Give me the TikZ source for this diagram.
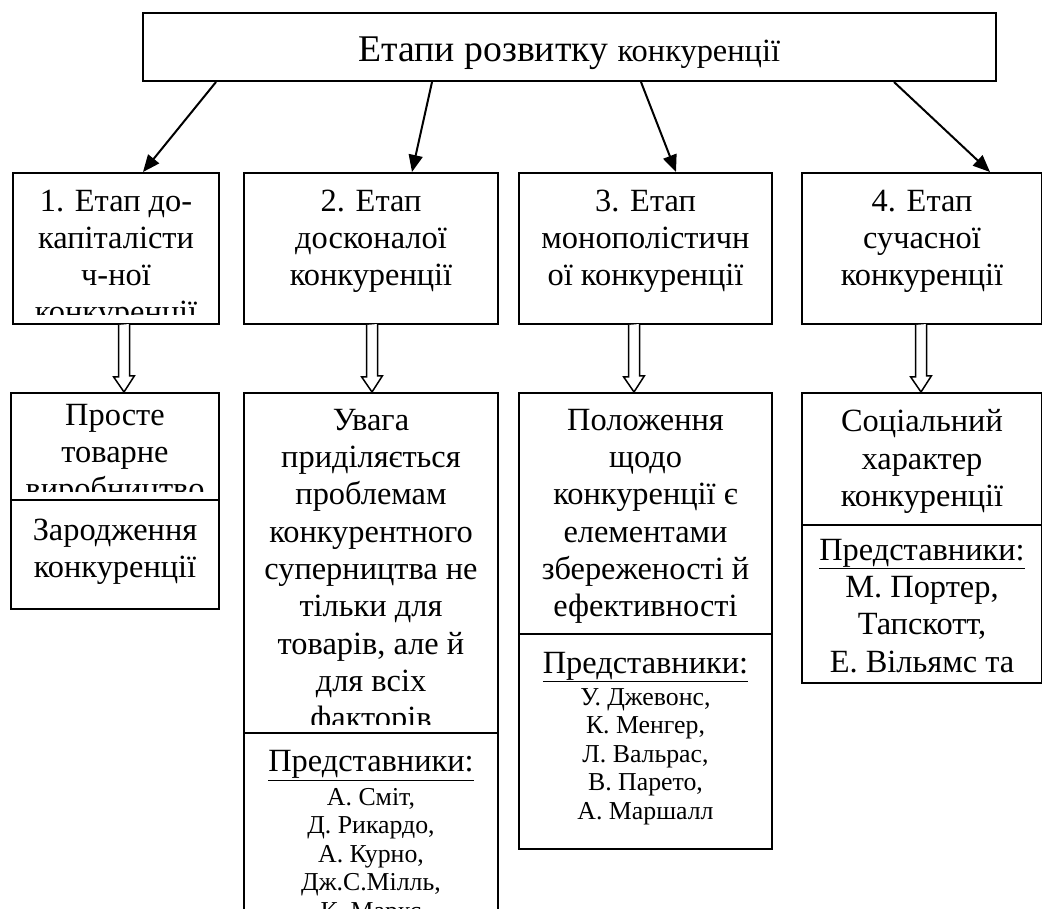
\documentclass[tikz,border=0pt]{standalone}
\usepackage{fontspec}
\setmainfont{Liberation Serif}
\usetikzlibrary{arrows.meta, calc, positioning}
\newcommand{\titlefont}{\fontsize{37.7}{43}\selectfont}
\newcommand{\stagefont}{\fontsize{32.4}{36.8}\selectfont}
\newcommand{\bodyfont}{\fontsize{32.4}{37.3}\selectfont}
\newcommand{\namefont}{\fontsize{25.8}{28.5}\selectfont}
\tikzstyle{box_node} = [rectangle, draw=black, line width=2pt, inner sep=0pt, anchor=north west]
\tikzstyle{text_node} = [anchor=north, inner sep=0pt, align=center]
\tikzstyle{arrow} = [line width=2pt, -{Triangle[length=17pt, width=14pt]}]
\tikzstyle{hollow_arrow} = [line width=1.5pt, fill=white]

\begin{document}
\begin{tikzpicture}[x=1pt, y=-1pt]
    \useasboundingbox (0,0) rectangle (1042,909);
    \clip (0,0) rectangle (1042,909);

    % boxes
    \node(title) [box_node, minimum width=853.5pt, minimum height=68pt] at (141.5,12) {};
    \node(s1) [box_node, minimum width=206pt, minimum height=151pt] at (12,172) {};
    \node(s2) [box_node, minimum width=254pt, minimum height=151pt] at (243,172) {};
    \node(s3) [box_node, minimum width=253pt, minimum height=151pt] at (518,172) {};
    \node(s4) [box_node, minimum width=240pt, minimum height=151pt] at (801,172) {};

    \node(d1a) [box_node, minimum width=208pt, minimum height=107pt] at (10,392) {};
    \node(d1b) [box_node, minimum width=208pt, minimum height=109pt] at (10,499) {};
    \node(d2a) [box_node, minimum width=254pt, minimum height=340pt] at (243,392) {};
    \node(d2b) [box_node, minimum width=254pt, minimum height=190pt] at (243,732) {};
    \node(d3a) [box_node, minimum width=253pt, minimum height=241pt] at (518,392) {};
    \node(d3b) [box_node, minimum width=253pt, minimum height=215pt] at (518,633) {};
    \node(d4a) [box_node, minimum width=240pt, minimum height=132pt] at (801,392) {};
    \node(d4b) [box_node, minimum width=240pt, minimum height=158pt] at (801,524) {};

    \node(title_text) [anchor=base, inner sep=0pt] at ([yshift=20.7pt]title.south)
        {\titlefont Етапи розвитку \bodyfont конкуренції};

    % texts, cut at the lower edge of each box
    \begin{scope}
        \clip (s1.north west) rectangle ($(s1.south east)+(0,-10)$);
        \node(s1_text) [text_node, font=\stagefont] at ($(s1.north)+(0,13.9)$)
            {\strut 1. Етап до-\\капіталісти\\ч-ної\\конкуренції};
    \end{scope}
    \node(s2_text) [text_node, font=\stagefont] at ($(s2.north)+(0,13.9)$)
        {\strut 2. Етап\\досконалої\\конкуренції};
    \node(s3_text) [text_node, font=\stagefont] at ($(s3.north)+(0,13.9)$)
        {\strut 3. Етап\\монополістичн\\ої конкуренції};
    \node(s4_text) [text_node, font=\stagefont] at ($(s4.north)+(0,13.9)$)
        {\strut 4. Етап\\сучасної\\конкуренції};

    \begin{scope}
        \clip (d1a.north west) rectangle ($(d1a.south east)+(0,-10)$);
        \node(d1a_text) [text_node, font=\bodyfont] at ($(d1a.north)+(0,6.9)$)
            {\strut Просте\\товарне\\виробництво};
    \end{scope}
    \node(d1b_text) [text_node, font=\bodyfont] at ($(d1b.north)+(0,14.9)$)
        {\strut Зародження\\конкуренції};

    \begin{scope}
        \clip (d2a.north west) rectangle ($(d2a.south east)+(0,-10)$);
        \node(d2a_text) [text_node, font=\bodyfont] at ($(d2a.north)+(0,11.9)$)
            {\strut Увага\\приділяється\\проблемам\\конкурентного\\суперництва не\\тільки для\\товарів, але й\\для всіх\\факторів};
    \end{scope}
    \node(d2b_head) [text_node, font=\bodyfont] at ($(d2b.north)+(0,13.6)$)
        {\strut\underline{Представники:}};
    \node(d2b_text) [text_node, font=\namefont] at ($(d2b_head.base)+(0,13.35)$)
        {\strut А. Сміт,\\Д. Рикардо,\\А. Курно,\\Дж.С.Мілль,\\К. Маркс};

    \node(d3a_text) [text_node, font=\bodyfont] at ($(d3a.north)+(0,11.9)$)
        {\strut Положення\\щодо\\конкуренції є\\елементами\\збереженості й\\ефективності};
    \node(d3b_head) [text_node, font=\bodyfont] at ($(d3b.north)+(0,13.9)$)
        {\strut\underline{Представники:}};
    \node(d3b_text) [text_node, font=\namefont] at ($(d3b_head.base)+(0,12.05)$)
        {\strut У. Джевонс,\\К. Менгер,\\Л. Вальрас,\\В. Парето,\\А. Маршалл};

    \node(d4a_text) [text_node, font=\bodyfont] at ($(d4a.north)+(0,13.6)$)
        {\strut Соціальний\\характер\\конкуренції};
    \begin{scope}
        \clip (d4b.north west) rectangle ($(d4b.south east)+(0,-9)$);
        \node(d4b_text) [text_node, font=\bodyfont] at ($(d4b.north)+(0,9.9)$)
            {\strut\underline{Представники:}\\М. Портер,\\Тапскотт,\\Е. Вільямс та};
    \end{scope}

    % arrows
    \draw[arrow] ([xshift=74.5pt]title.south west) -- ([xshift=131pt]s1.north west);
    \draw[arrow] ([xshift=290.5pt]title.south west) -- ([xshift=169pt]s2.north west);
    \draw[arrow] ([xshift=499.5pt]title.south west) -- ([xshift=158pt]s3.north west);
    \draw[arrow] ([xshift=752.5pt]title.south west) -- ([xshift=189pt]s4.north west);

    \foreach \a/\b/\dx in {s1/d1a/8, s2/d2a/1, s3/d3a/-11.5, s4/d4a/-1}
        \draw[hollow_arrow] ([xshift=\dx pt-5.5pt]\a.south) -- ++(0,52) -- ++(-4.8,0)
            -- ([xshift=\dx pt]\a.south |- \b.north) -- ++(10.3,-16) -- ++(-4.8,0) -- ++(0,-52);
\end{tikzpicture}
\end{document}
